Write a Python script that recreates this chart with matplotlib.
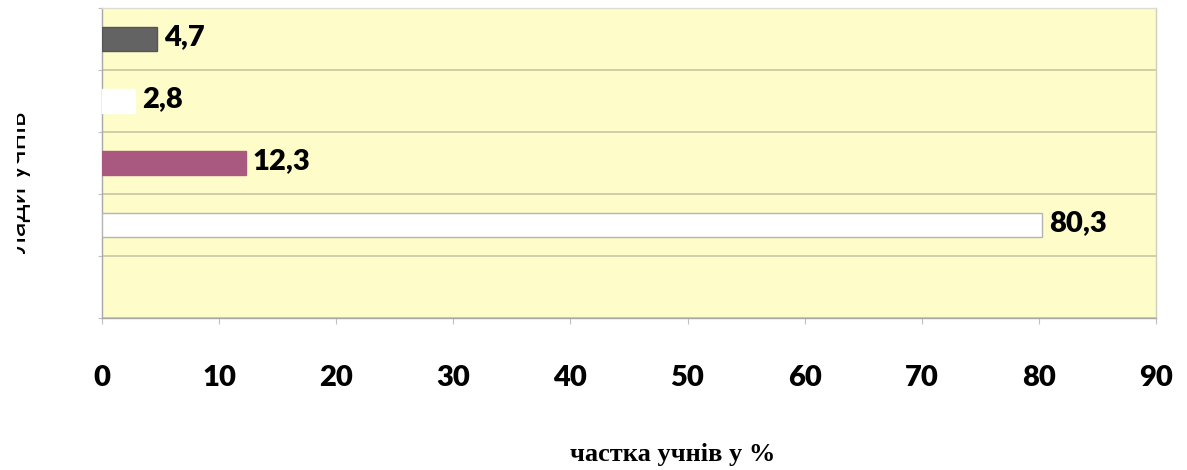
import numpy as np
import matplotlib.pyplot as plt
from matplotlib.transforms import Bbox

# Частка учнів за групами (згори вниз); остання група без даних
values = [4.7, 2.8, 12.3, 80.3]
labels = ['4,7', '2,8', '12,3', '80,3']
n_slots = 5
bar_colors = ['#636363', '#ffffff', '#a9587f', '#ffffff']
edge_colors = ['#555555', '#ffffff', '#a9587f', '#b4b4b4']
xticks = [0, 10, 20, 30, 40, 50, 60, 70, 80, 90]

W, H = 1187, 470
fig = plt.figure(figsize=(W / 100, H / 100), dpi=100)
ax = fig.add_axes([102 / W, 1 - 318 / H, (1156 - 102) / W, (318 - 8) / H])
ax.set_facecolor('#fefcc8')

y = np.arange(len(values)) + 0.5
ax.barh(y, values, height=0.4, color=bar_colors, edgecolor=edge_colors, linewidth=1, zorder=3)

for yi, v, lab in zip(y, values, labels):
    ax.annotate(lab, xy=(v, yi), xytext=(5, 1), textcoords='offset points',
                ha='left', va='center', fontsize=21, fontweight='heavy',
                family='Lato', color='black', zorder=4)

ax.set_xlim(0, 90)
ax.set_ylim(n_slots, 0)
ax.set_xticks(xticks)
ax.set_xticklabels([str(t) for t in xticks], fontsize=21, fontweight='heavy', family='Lato')
ax.set_yticks(np.arange(n_slots + 1))
ax.set_yticklabels([])
ax.tick_params(axis='x', length=4, width=0.8, color='#c0c0c0', pad=30)
ax.tick_params(axis='y', length=3, width=0.8, color='#c0c0c0')

# горизонтальні лінії між групами
ax.grid(axis='y', color='#c9c6a3', linewidth=1.2, zorder=1)
ax.grid(axis='x', visible=False)

ax.spines['left'].set_color('#a8a8a8')
ax.spines['bottom'].set_color('#a8a8a8')
ax.spines['top'].set_color('#dcdcd0')
ax.spines['right'].set_color('#cfcfc0')
for s in ax.spines.values():
    s.set_linewidth(1)

fig.text(673 / W, 1 - 455 / H, 'частка учнів у %', fontsize=19, fontweight='bold',
         family='Liberation Serif', ha='center', va='center')

# підпис осі Y, частково обрізаний зліва
ylab = fig.text(31 / W, 1 - 182 / H, 'лади учнів', rotation=90,
                ha='right', va='center', fontsize=21, family='Lato', color='black')
ylab.set_clip_box(Bbox([[17, 0], [200, H]]))
ylab.set_clip_on(True)

fig.savefig('out.png', dpi=100)
